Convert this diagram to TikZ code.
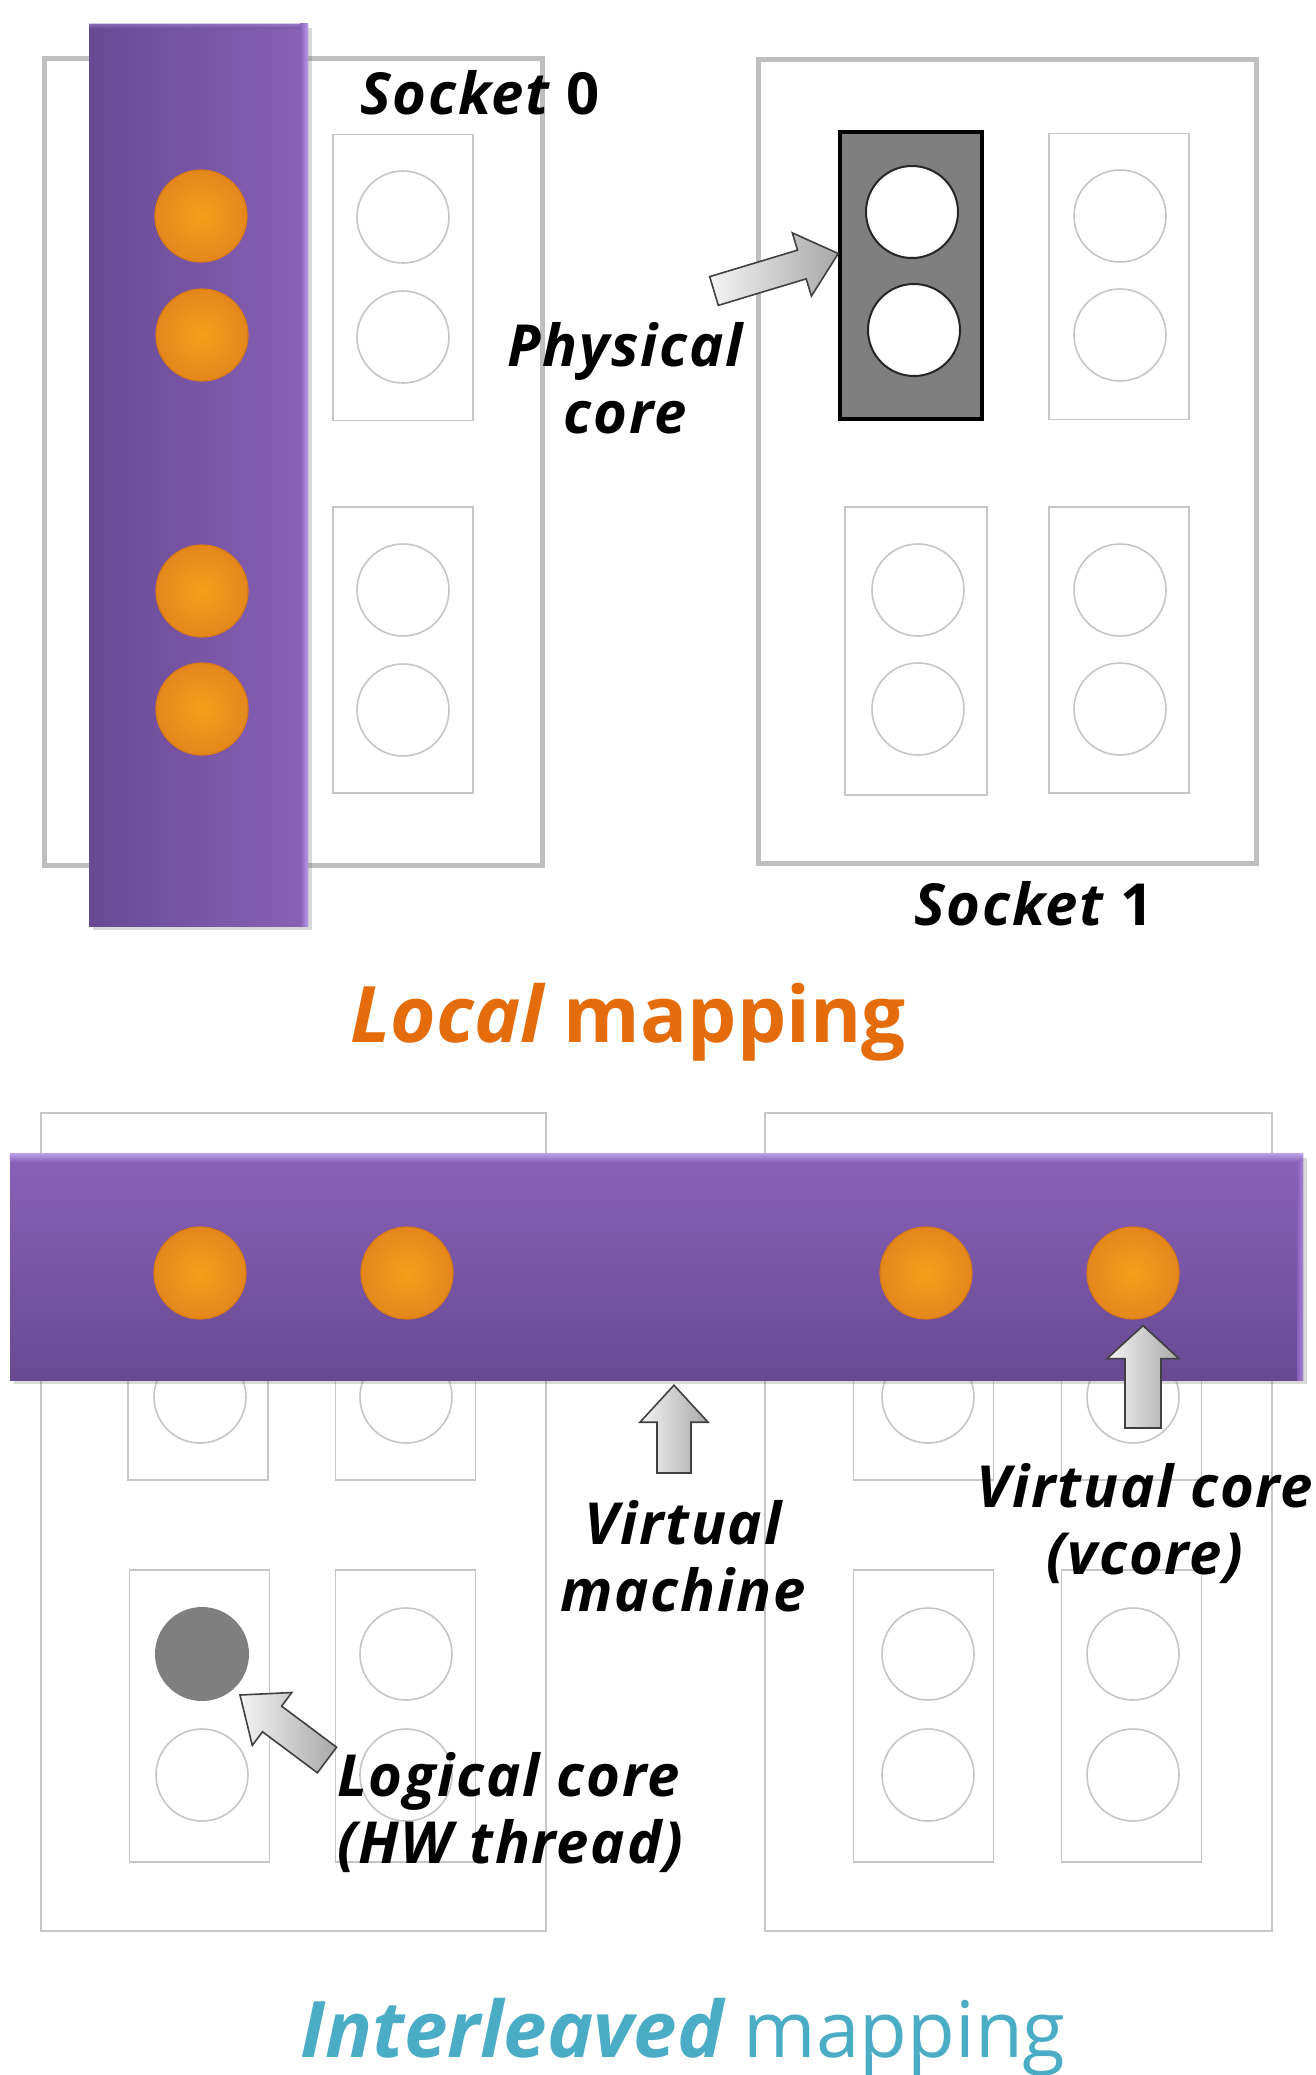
\documentclass[tikz,border=0pt]{standalone}
\usepackage{fontspec}
\setmainfont{Open Sans}
\usetikzlibrary{calc,shadows}
\definecolor{sockgray}{HTML}{BFBFBF}
\definecolor{thingray}{HTML}{C6C6C6}
\definecolor{vmdark}{HTML}{674A92}
\definecolor{vmlight}{HTML}{8A61B8}
\definecolor{vmhi}{HTML}{B89CE6}
\definecolor{vcorange}{HTML}{F7931F}
\definecolor{vcrim}{HTML}{D97A14}
\definecolor{titleorange}{HTML}{E46C0A}
\definecolor{titleteal}{HTML}{4BACC6}
\definecolor{physgray}{HTML}{7F7F7F}
\definecolor{arrowline}{HTML}{404040}
\definecolor{arrowlight}{HTML}{F4F4F4}
\definecolor{arrowdark}{HTML}{A8A8A8}
\newcommand\blockarrow[5]{%
  \coordinate (ba-hb) at ($(#2)!#5!(#1)$);
  \path[barrow] ($(#1)!#3!90:(#2)$) -- ($(ba-hb)!#3!90:(#2)$) -- ($(ba-hb)!#4!90:(#2)$) -- (#2)
    -- ($(ba-hb)!#4!-90:(#2)$) -- ($(ba-hb)!#3!-90:(#2)$) -- ($(#1)!#3!-90:(#2)$) -- cycle;
}
\tikzset{
  sockthick/.style={rectangle, draw=sockgray, line width=5pt, inner sep=0pt},
  sockthin/.style={rectangle, draw=thingray, line width=2pt, inner sep=0pt},
  corebox/.style={rectangle, draw=thingray, line width=1.6pt, inner sep=0pt, minimum width=140, minimum height=286},
  thr/.style={circle, draw=thingray, line width=1.6pt, inner sep=0pt, minimum size=92},
  vcoreball/.style={circle, inner color=vcorange!90!yellow, outer color=vcorange!92!black, draw=vcrim, line width=1.2pt, inner sep=0pt, minimum size=92},
  vmbar/.style={rectangle, inner sep=0pt, drop shadow={shadow xshift=4pt, shadow yshift=-4pt, opacity=0.3}},
  barrow/.style={draw=arrowline, line width=1.6pt, left color=arrowlight, right color=arrowdark, line join=miter},
  lbl/.style={font=\fontsize{58}{67}\selectfont\bfseries\itshape\addfontfeature{LetterSpace=3}, inner sep=0pt, text=black},
  ttl/.style={font=\fontsize{78}{90}\selectfont, inner sep=0pt}
}
\begin{document}
\begin{tikzpicture}[x=1pt,y=-1pt]
\useasboundingbox (0,0) rectangle (1315,2075);
\fill[white] (0,0) rectangle (1315,2075);

% ================= Local mapping =================
\node[sockthick, minimum width=498, minimum height=807] (s0) at (293,461.5) {};
\node[sockthick, minimum width=498, minimum height=804] (s1) at (1007,461) {};

% socket 0 cores
\node[corebox] (s0a) at (403,277.5) {};
\node[thr] (s0a1) at (403,217) {};
\node[thr] (s0a2) at (403,337) {};
\node[corebox] (s0b) at (403,650) {};
\node[thr] (s0b1) at (403,590) {};
\node[thr] (s0b2) at (403,710) {};

% socket 1 cores
\node[corebox, fill=physgray, draw=black, line width=3.5pt, minimum width=142, minimum height=287] (s1a) at (911,275.5) {};
\node[thr, fill=white, draw=black!85, line width=2pt] (s1a1) at (912,212) {};
\node[thr, fill=white, draw=black!85, line width=2pt] (s1a2) at (914,330) {};
\node[corebox] (s1b) at (1119,276.5) {};
\node[thr] (s1b1) at (1120,216) {};
\node[thr] (s1b2) at (1120,335) {};
\node[corebox, minimum width=142, minimum height=288] (s1c) at (916,651) {};
\node[thr] (s1c1) at (918,590) {};
\node[thr] (s1c2) at (918,709) {};
\node[corebox] (s1d) at (1119,650) {};
\node[thr] (s1d1) at (1120,590) {};
\node[thr] (s1d2) at (1120,709) {};

% virtual machine (vertical)
\node[vmbar, left color=vmdark, right color=vmlight, minimum width=219, minimum height=902] (vm1) at (198.5,475) {};
\shade[left color=vmlight, right color=vmhi] ($(vm1.north east)+(-8,0)$) rectangle (vm1.south east);
\shade[top color=vmhi!70!vmlight, bottom color=vmlight!0!vmdark, opacity=0.5] (vm1.north west) rectangle ($(vm1.north east)+(-8,5)$);
\node[vcoreball] (va1) at (201,216) {};
\node[vcoreball] (va2) at (202,335) {};
\node[vcoreball] (va3) at (202,591) {};
\node[vcoreball] (va4) at (202,709) {};

% labels
\node[lbl, anchor=base west] (ls0) at (360,114) {Socket {\upshape 0}};
\node[lbl, anchor=base] (ls1) at (1034,925) {Socket {\upshape 1}};
\node[lbl, anchor=base, align=center] (lphys) at (625,433) {Physical\\core};

\coordinate (phys-tail) at (714,291);
\coordinate (phys-tip) at ($(s1a.west)+(0,-22)$);
\blockarrow{phys-tail}{phys-tip}{15pt}{33pt}{38pt}

\node[ttl, anchor=base, text=titleorange] (tlocal) at (628,1042) {{\bfseries\itshape Local} {\bfseries mapping}};

% ================= Interleaved mapping =================
\node[sockthin, minimum width=505, minimum height=818] (t0) at (293.5,1522) {};
\node[sockthin, minimum width=507, minimum height=818] (t1) at (1018.5,1522) {};

\node[corebox] (t0a) at (198,1337) {};
\node[thr] (t0a1) at (200,1277) {};
\node[thr] (t0a2) at (200,1397) {};
\node[corebox] (t0b) at (405.5,1337) {};
\node[thr] (t0b1) at (406,1277) {};
\node[thr] (t0b2) at (406,1397) {};
\node[corebox] (t1a) at (923.5,1337) {};
\node[thr] (t1a1) at (928,1277) {};
\node[thr] (t1a2) at (928,1397) {};
\node[corebox] (t1b) at (1131.5,1337) {};
\node[thr] (t1b1) at (1133,1277) {};
\node[thr] (t1b2) at (1133,1397) {};

\node[corebox, minimum height=292] (t0c) at (199.5,1716) {};
\node[circle, fill=physgray, inner sep=0pt, minimum size=94] (t0c1) at (202,1654) {};
\node[thr] (t0c2) at (202,1775) {};
\node[corebox, minimum height=292] (t0d) at (405.5,1716) {};
\node[thr] (t0d1) at (406,1654) {};
\node[thr] (t0d2) at (406,1775) {};
\node[corebox, minimum height=292] (t1c) at (923.5,1716) {};
\node[thr] (t1c1) at (928,1654) {};
\node[thr] (t1c2) at (928,1775) {};
\node[corebox, minimum height=292] (t1d) at (1131.5,1716) {};
\node[thr] (t1d1) at (1133,1654) {};
\node[thr] (t1d2) at (1133,1775) {};

% virtual machine (horizontal)
\node[vmbar, top color=vmlight, bottom color=vmdark, minimum width=1293, minimum height=226] (vm2) at (656.5,1267) {};
\shade[top color=vmhi, bottom color=vmlight] (vm2.north west) rectangle ($(vm2.north east)+(0,8)$);
\shade[left color=vmlight, right color=vmhi!60!vmlight] ($(vm2.north east)+(-6,8)$) rectangle (vm2.south east);
\node[vcoreball] (vb1) at (200,1273) {};
\node[vcoreball] (vb2) at (407,1273) {};
\node[vcoreball] (vb3) at (926,1273) {};
\node[vcoreball] (vb4) at (1133,1273) {};

% arrows
\coordinate (vm-tail) at (674,1473);
\coordinate (vm-tip) at ($(vm2.south)+(17.5,5)$);
\blockarrow{vm-tail}{vm-tip}{17pt}{34pt}{37pt}
\coordinate (vc-tail) at (1143,1428);
\coordinate (vc-tip) at ($(vb4.south)+(10,6)$);
\blockarrow{vc-tail}{vc-tip}{18pt}{36pt}{33pt}
\coordinate (lc-tail) at (327,1760);
\coordinate (lc-tip) at (240,1695);
\blockarrow{lc-tail}{lc-tip}{16pt}{33pt}{40pt}

% labels
\node[lbl, anchor=base, align=center] (lvm) at (683,1611) {Virtual\\machine};
\node[lbl, anchor=base, align=center] (lvc) at (1145,1574) {Virtual core\\(vcore)};
\node[lbl, anchor=base west, align=left] (llc) at (337,1863) {Logical core\\(HW thread)};

\node[ttl, anchor=base, text=titleteal] (tinter) at (683,2057) {{\bfseries\itshape Interleaved} mapping};
\end{tikzpicture}
\end{document}
